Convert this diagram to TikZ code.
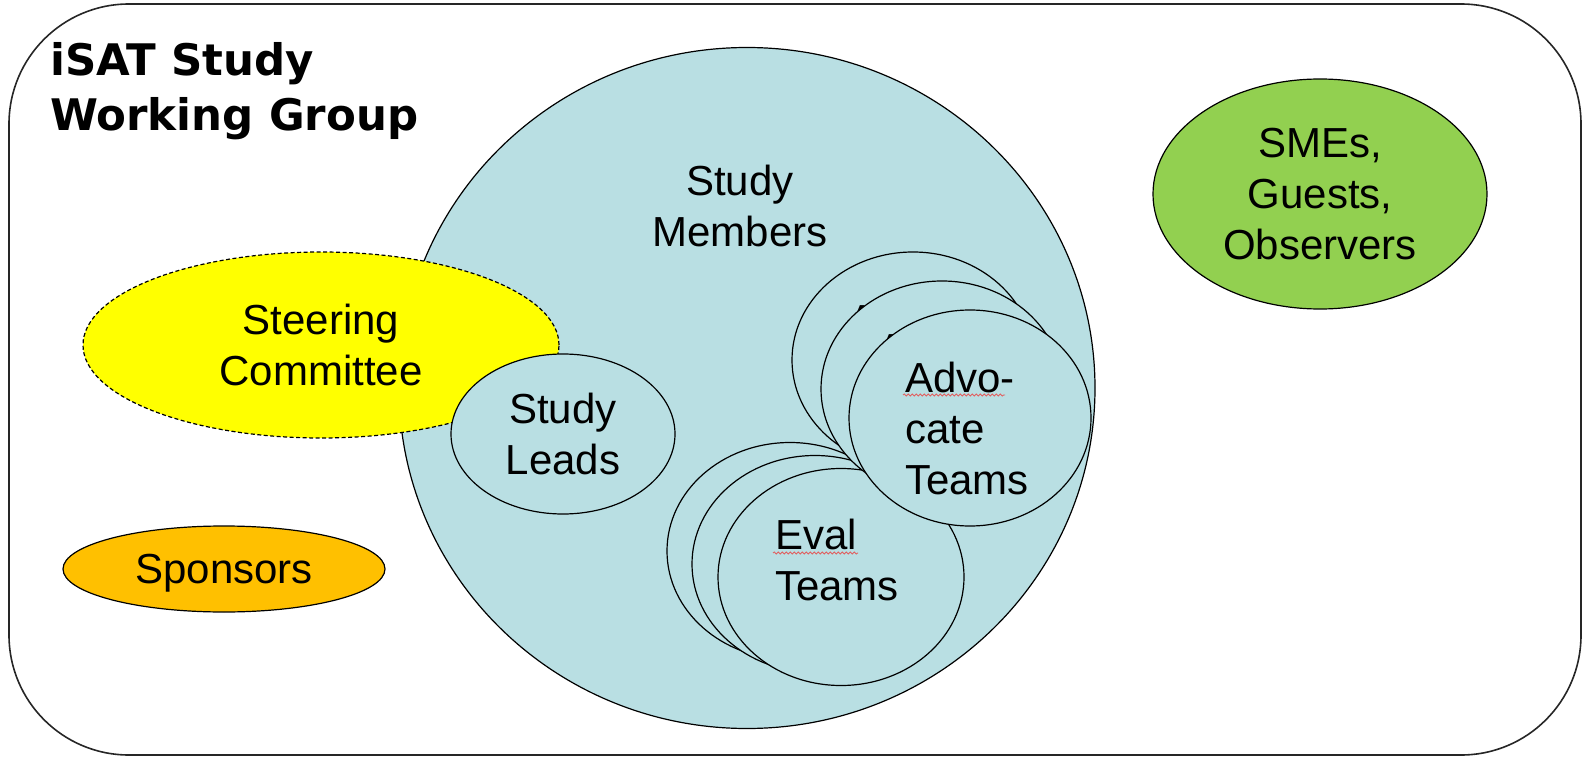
\documentclass[tikz,border=0pt]{standalone}
\usepackage{fontspec}
\setmainfont{Liberation Sans}
\newfontfamily\titlefont{DejaVu Sans}
\usepackage{tikz}
\usetikzlibrary{shapes.geometric}
\usetikzlibrary{decorations.pathmorphing}

\definecolor{studyblue}{RGB}{185,223,227}
\definecolor{steeryellow}{RGB}{255,255,0}
\definecolor{sponsororange}{RGB}{255,192,0}
\definecolor{smegreen}{RGB}{146,208,80}
\definecolor{spellred}{RGB}{225,95,95}

\begin{document}
\begin{tikzpicture}[
    x=1pt, y=-1pt,
    font=\fontsize{42}{51}\selectfont,
    % Define styles for the groups
    group_blob/.style={ellipse, draw=black, line width=1.2pt, inner sep=0pt, align=center},
    study_blob/.style={group_blob, fill=studyblue},
    team_text/.style={align=left, inner sep=0pt},
    adv_blob/.style={study_blob, minimum width=242pt, minimum height=216pt},
    eval_blob/.style={study_blob, minimum width=246pt, minimum height=217pt},
    spell_mark/.style={spellred, line width=0.8pt, decorate,
        decoration={snake, amplitude=1.1pt, segment length=4pt}}
]

% --- 1. Frame of the working group ---
\useasboundingbox (0,0) rectangle (1583,757);
\draw[line width=1.6pt, draw=black!85, rounded corners=120pt] (9,4) rectangle (1581,755);
\node[font=\titlefont\bfseries\fontsize{43.5}{55}\selectfont, align=left, anchor=north west, inner sep=0pt]
    (title) at (50,42) {iSAT Study\\Working Group};

% --- 2. Study members and the groups round them ---
\node[study_blob, minimum width=696pt, minimum height=681pt] (members) at (747,388) {};
\node[align=center] (members_txt) at (740,206) {Study\\Members};

\node[group_blob, fill=steeryellow, dash pattern=on 4pt off 2.5pt,
    minimum width=476pt, minimum height=186pt] (steering) at (321,345) {Steering\\Committee};
\node[study_blob, minimum width=224pt, minimum height=160pt] (leads) at (563,434) {Study\\Leads};

\node[group_blob, fill=sponsororange, text depth=0pt,
    minimum width=322pt, minimum height=86pt] (sponsors) at (224,569) {Sponsors};
\node[group_blob, fill=smegreen, minimum width=334pt, minimum height=230pt]
    (smes) at (1320,194) {SMEs,\\Guests,\\Observers};

% --- 3. Stacked team blobs (back to front) ---
\foreach \dx/\dy [count=\i] in {-51/-26, -26/-13, 0/0}
    \node[eval_blob, label={[team_text, xshift=-4pt, yshift=17pt]center:{Eval\\Teams}}]
        (eval\i) at ({841+\dx},{577+\dy}) {};

\foreach \dx/\dy [count=\i] in {-57/-58, -28/-29, 0/0}
    \node[adv_blob, label={[team_text, xshift=-3pt, yshift=-10pt]center:{Advo-\\cate\\Teams}}]
        (adv\i) at ({970+\dx},{418+\dy}) {};

% spelling marks under the team names
\draw[spell_mark] (903,395) -- (1005,395);
\draw[spell_mark] (773,553) -- (858,553);

\end{tikzpicture}
\end{document}
